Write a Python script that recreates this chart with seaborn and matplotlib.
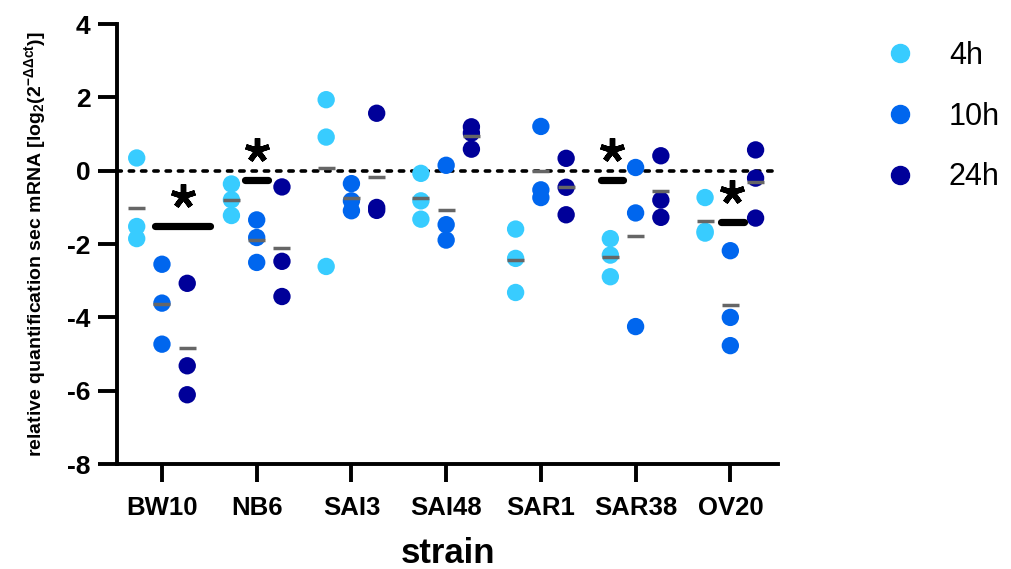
import matplotlib
matplotlib.use("Agg")
import matplotlib.pyplot as plt
import seaborn as sns
import numpy as np
import pandas as pd
from matplotlib.lines import Line2D

strains = ["BW10", "NB6", "SAI3", "SAI48", "SAR1", "SAR38", "OV20"]
times = ["4h", "10h", "24h"]
colors = ["#38CCFF", "#0066EE", "#000099"]

# three replicates per strain
v4h = [[0.35, -1.52, -1.85], [-0.36, -0.79, -1.22], [1.94, 0.92, -2.61],
       [-0.07, -0.82, -1.32], [-1.59, -2.39, -3.32], [-1.85, -2.30, -2.89],
       [-0.73, -1.65, -1.70]]
v10h = [[-2.55, -3.61, -4.73], [-1.34, -1.82, -2.50], [-0.35, -0.82, -1.09],
        [0.15, -1.47, -1.89], [1.21, -0.52, -0.73], [0.09, -1.15, -4.25],
        [-2.18, -4.00, -4.77]]
v24h = [[-3.07, -5.32, -6.11], [-0.44, -2.47, -3.43], [1.57, -1.00, -1.08],
        [1.20, 1.03, 0.59], [0.34, -0.45, -1.20], [0.41, -0.80, -1.27],
        [0.57, -0.20, -1.29]]

# significance marks (bar level and extent around the strain)
sig_strains = ["BW10", "NB6", "SAR38", "OV20"]
sig_y = [-1.51, -0.25, -0.25, -1.39]
sig_from = [-0.07, -0.12, -0.37, -0.10]
sig_to = [0.51, 0.12, -0.13, 0.14]

rows = []
for t, vals in zip(times, [v4h, v10h, v24h]):
    for s, reps in zip(strains, vals):
        for v in reps:
            rows.append({"strain": s, "time": t, "value": v})
df = pd.DataFrame(rows)

sns.set_style("ticks")
plt.rcParams["font.family"] = ["Liberation Sans", "DejaVu Sans"]
plt.rcParams["mathtext.fontset"] = "custom"
plt.rcParams["mathtext.rm"] = "Liberation Sans:bold"
plt.rcParams["mathtext.it"] = "Liberation Sans:bold"
plt.rcParams["mathtext.bf"] = "Liberation Sans:bold"
plt.rcParams["mathtext.default"] = "rm"
plt.rcParams["axes.unicode_minus"] = False
for k in ["text.color", "axes.labelcolor", "xtick.color", "ytick.color",
          "axes.edgecolor"]:
    plt.rcParams[k] = "black"

fig = plt.figure(figsize=(10.11, 5.69), dpi=100)
ax = fig.add_axes([0.1157, 0.1845, 0.654, 0.773])

ax.axhline(0, color="black", lw=2.6, linestyle=(0, (1.2, 2.2)),
           dash_capstyle="round", zorder=1)

sns.stripplot(data=df, x="strain", y="value", hue="time", order=strains,
              hue_order=times, palette=colors, dodge=True, jitter=False,
              size=12.5, linewidth=0, legend=False, ax=ax, zorder=2)

# group means
offsets = np.array([-0.8 / 3, 0, 0.8 / 3])
means = df.groupby(["strain", "time"])["value"].mean()
for i, s in enumerate(strains):
    for j, t in enumerate(times):
        x = i + offsets[j]
        ax.hlines(means[(s, t)], x - 0.09, x + 0.09, color="#666666",
                  lw=2.5, zorder=3)

for s, y, a, b in zip(sig_strains, sig_y, sig_from, sig_to):
    i = strains.index(s)
    ax.plot([i + a, i + b], [y, y], color="black", lw=5.2,
            solid_capstyle="round", zorder=4)
    ax.plot(i + (a + b) / 2, y + 0.82, marker=(5, 2, 0), color="black",
            markersize=17.5, markeredgewidth=3.9, zorder=4)

ax.set_xlim(-0.475, 6.505)
ax.set_ylim(-8, 4)
ax.set_yticks([-8, -6, -4, -2, 0, 2, 4])
sns.despine(ax=ax)
for sp in ["left", "bottom"]:
    ax.spines[sp].set_linewidth(2.8)
ax.tick_params(axis="y", width=2.8, length=14, labelsize=19, pad=5)
ax.tick_params(axis="x", width=2.8, length=13, labelsize=18.5, pad=10)
for lab in ax.get_xticklabels() + ax.get_yticklabels():
    lab.set_fontweight("bold")

ax.set_xlabel("strain", fontsize=25, fontweight="bold", labelpad=12)
ax.set_ylabel(r"relative quantification sec mRNA [log$_2$(2$^{-\Delta\Delta ct}$)]",
              fontsize=14, fontweight="bold", labelpad=14)

handles = [Line2D([], [], marker="o", linestyle="", color=c, markersize=13)
           for c in colors]
fig.legend(handles, times, loc="upper left", bbox_to_anchor=(0.848, 0.976),
           frameon=False, fontsize=22, handletextpad=1.1, labelspacing=1.0,
           handlelength=1.0)

fig.savefig("out.png", dpi=100)
